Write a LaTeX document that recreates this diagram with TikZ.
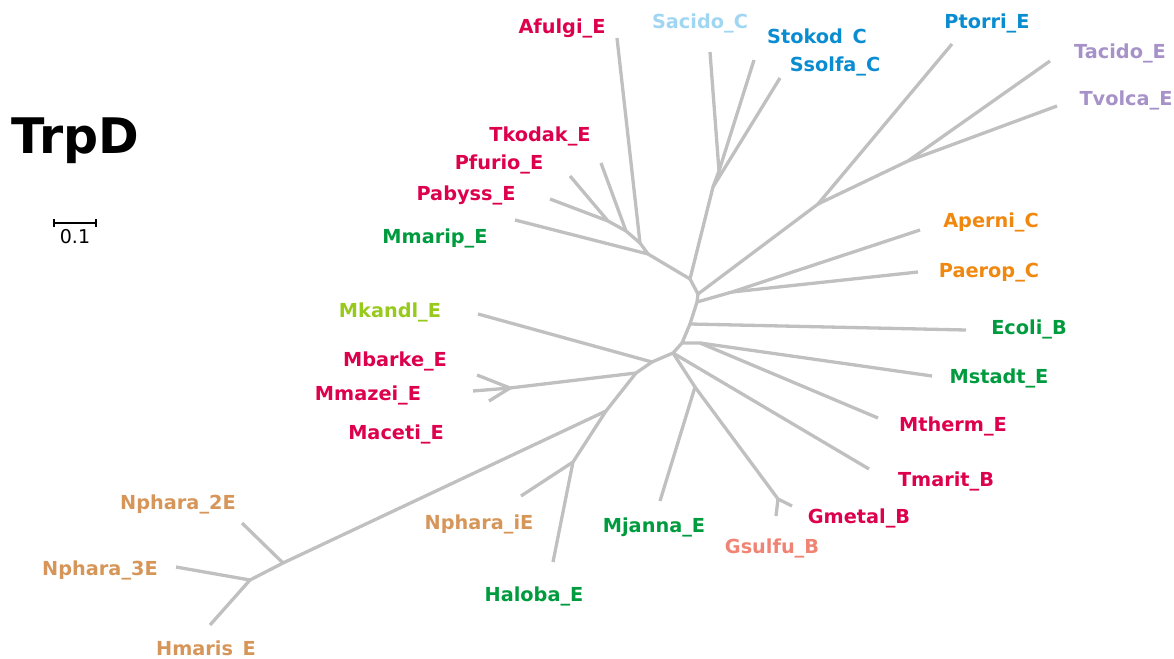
\documentclass[tikz,border=0pt]{standalone}
\usepackage{fontspec}
\setmainfont{DejaVu Sans}
\usepackage{tikz}

\definecolor{treegray}{RGB}{192,192,192}
\definecolor{crimson}{RGB}{221,0,76}
\definecolor{skyblue}{RGB}{160,214,242}
\definecolor{deepblue}{RGB}{10,140,208}
\definecolor{lavender}{RGB}{166,146,200}
\definecolor{tangerine}{RGB}{240,136,16}
\definecolor{leafgreen}{RGB}{0,155,62}
\definecolor{limegreen}{RGB}{152,202,30}
\definecolor{salmon}{RGB}{240,132,116}
\definecolor{tan}{RGB}{214,150,90}

\begin{document}
\begin{tikzpicture}[x=1pt,y=-1pt,
		branch/.style={draw=treegray,line width=3.3pt,line join=round},
		leaf/.style={font=\bfseries\fontsize{19.3}{22}\selectfont,inner sep=0pt,anchor=base}]
	\useasboundingbox (0,0) rectangle (1174,658);
	\coordinate (i1) at (690,279);
	\coordinate (sac1) at (713,187);
	\coordinate (sac2) at (719,171);
	\coordinate (a1) at (608,221);
	\coordinate (a2) at (626,231);
	\coordinate (a3) at (640,243);
	\coordinate (a4) at (648,254);
	\coordinate (p0) at (698,294);
	\coordinate (p1) at (818,204);
	\coordinate (p2) at (908,161);
	\coordinate (q0) at (697,302);
	\coordinate (q1) at (732,292);
	\coordinate (e0) at (690,324);
	\coordinate (m0) at (682,343);
	\coordinate (m1) at (700,343);
	\coordinate (c0) at (673,353);
	\coordinate (g0) at (695,387);
	\coordinate (g1) at (778,499);
	\coordinate (l1) at (652,362);
	\coordinate (l2) at (636,373);
	\coordinate (mb) at (510,388);
	\coordinate (n1) at (606,411);
	\coordinate (n2) at (573,462);
	\coordinate (h1) at (283,563);
	\coordinate (h2) at (250,580);
	\coordinate (afulgi) at (617,38);
	\coordinate (sacido) at (710,52);
	\coordinate (stokod) at (754,60);
	\coordinate (ssolfa) at (780,78);
	\coordinate (ptorri) at (952,44);
	\coordinate (tacido) at (1050,61);
	\coordinate (tvolca) at (1057,106);
	\coordinate (tkodak) at (601,163);
	\coordinate (pfurio) at (570,176);
	\coordinate (pabyss) at (550,199);
	\coordinate (mmarip) at (515,220);
	\coordinate (aperni) at (920,230);
	\coordinate (paerop) at (918,272);
	\coordinate (mkandl) at (478,314);
	\coordinate (ecoli) at (966,330);
	\coordinate (mbarke) at (477,375);
	\coordinate (mmazei) at (473,391);
	\coordinate (maceti) at (489,401);
	\coordinate (mstadt) at (932,376);
	\coordinate (mtherm) at (878,418);
	\coordinate (tmarit) at (869,469);
	\coordinate (gmetal) at (792,506);
	\coordinate (gsulfu) at (776,516);
	\coordinate (mjanna) at (660,501);
	\coordinate (npharai) at (521,496);
	\coordinate (haloba) at (553,562);
	\coordinate (nphara2) at (242,523);
	\coordinate (nphara3) at (176,567);
	\coordinate (hmaris) at (210,625);

	\draw[branch] (mmarip) -- (a4) -- (i1);
	\draw[branch] (afulgi) -- (a3) -- (a4);
	\draw[branch] (tkodak) -- (a2) -- (a3);
	\draw[branch] (pabyss) -- (a1) -- (pfurio);
	\draw[branch] (a1) -- (a2);
	\draw[branch] (i1) -- (sac1) -- (sac2) -- (sacido);
	\draw[branch] (sac2) -- (stokod);
	\draw[branch] (sac1) -- (ssolfa);
	\draw[branch] (i1) -- (p0) -- (p1) -- (ptorri);
	\draw[branch] (p1) -- (p2) -- (tacido);
	\draw[branch] (p2) -- (tvolca);
	\draw[branch] (p0) -- (q0) -- (q1) -- (aperni);
	\draw[branch] (q1) -- (paerop);
	\draw[branch] (q0) -- (e0) -- (ecoli);
	\draw[branch] (e0) -- (m0) -- (m1) -- (mstadt);
	\draw[branch] (m1) -- (mtherm);
	\draw[branch] (m0) -- (c0) -- (tmarit);
	\draw[branch] (c0) -- (g0) -- (mjanna);
	\draw[branch] (g0) -- (g1) -- (gmetal);
	\draw[branch] (g1) -- (gsulfu);
	\draw[branch] (c0) -- (l1) -- (mkandl);
	\draw[branch] (l1) -- (l2) -- (mb) -- (mbarke);
	\draw[branch] (mb) -- (mmazei);
	\draw[branch] (mb) -- (maceti);
	\draw[branch] (l2) -- (n1) -- (n2) -- (npharai);
	\draw[branch] (n2) -- (haloba);
	\draw[branch] (n1) -- (h1) -- (nphara2);
	\draw[branch] (h1) -- (h2) -- (nphara3);
	\draw[branch] (h2) -- (hmaris);

	\node[leaf,text=crimson] (afulgiE) at (562,34) {Afulgi\_E};
	\node[leaf,text=skyblue] (sacidoE) at (700,29) {Sacido\_C};
	\node[leaf,text=deepblue] (stokodE) at (817,44) {Stokod\hphantom{\_}C};
	\node[leaf,text=deepblue] (ssolfaE) at (835,72) {Ssolfa\_C};
	\node[leaf,text=deepblue] (ptorriE) at (987,29) {Ptorri\_E};
	\node[leaf,text=lavender] (tacidoE) at (1120,59) {Tacido\_E};
	\node[leaf,text=lavender] (tvolcaE) at (1126,106) {Tvolca\_E};
	\node[leaf,text=crimson] (tkodakE) at (540,142) {Tkodak\_E};
	\node[leaf,text=crimson] (pfurioE) at (499,169) {Pfurio\_E};
	\node[leaf,text=crimson] (pabyssE) at (466,200) {Pabyss\_E};
	\node[leaf,text=leafgreen] (mmaripE) at (435,243) {Mmarip\_E};
	\node[leaf,text=tangerine] (aperniE) at (991,227) {Aperni\_C};
	\node[leaf,text=tangerine] (paeropE) at (989,277) {Paerop\_C};
	\node[leaf,text=limegreen] (mkandlE) at (390,317) {Mkandl\_E};
	\node[leaf,text=leafgreen] (ecoliE) at (1029,334) {Ecoli\_B};
	\node[leaf,text=crimson] (mbarkeE) at (395,366) {Mbarke\_E};
	\node[leaf,text=crimson] (mmazeiE) at (368,400) {Mmazei\_E};
	\node[leaf,text=crimson] (macetiE) at (396,439) {Maceti\_E};
	\node[leaf,text=leafgreen] (mstadtE) at (999,383) {Mstadt\_E};
	\node[leaf,text=crimson] (mthermE) at (953,431) {Mtherm\_E};
	\node[leaf,text=crimson] (tmaritE) at (946,486) {Tmarit\_B};
	\node[leaf,text=crimson] (gmetalE) at (859,523) {Gmetal\_B};
	\node[leaf,text=salmon] (gsulfuE) at (772,553) {Gsulfu\_B};
	\node[leaf,text=leafgreen] (mjannaE) at (654,532) {Mjanna\_E};
	\node[leaf,text=tan] (npharaiE) at (479,529) {Nphara\_iE};
	\node[leaf,text=leafgreen] (halobaE) at (534,601) {Haloba\_E};
	\node[leaf,text=tan] (nphara2E) at (178,509) {Nphara\_2E};
	\node[leaf,text=tan] (nphara3E) at (100,575) {Nphara\_3E};
	\node[leaf,text=tan] (hmarisE) at (206,655) {Hmaris\hphantom{\_}E};

	\node[font=\bfseries\fontsize{49}{56}\selectfont,inner sep=0pt,anchor=base] (title) at (75,153) {TrpD};
	\coordinate (barL) at (54,223);
	\coordinate (barR) at (96,223);
	\draw[line width=1.3pt] ([yshift=-4]barL) -- ([yshift=4]barL) (barL) -- (barR) ([yshift=-4]barR) -- ([yshift=4]barR);
	\node[font=\fontsize{19}{22}\selectfont,inner sep=0pt,anchor=base] (scale) at (75,243) {0.1};
\end{tikzpicture}
\end{document}
